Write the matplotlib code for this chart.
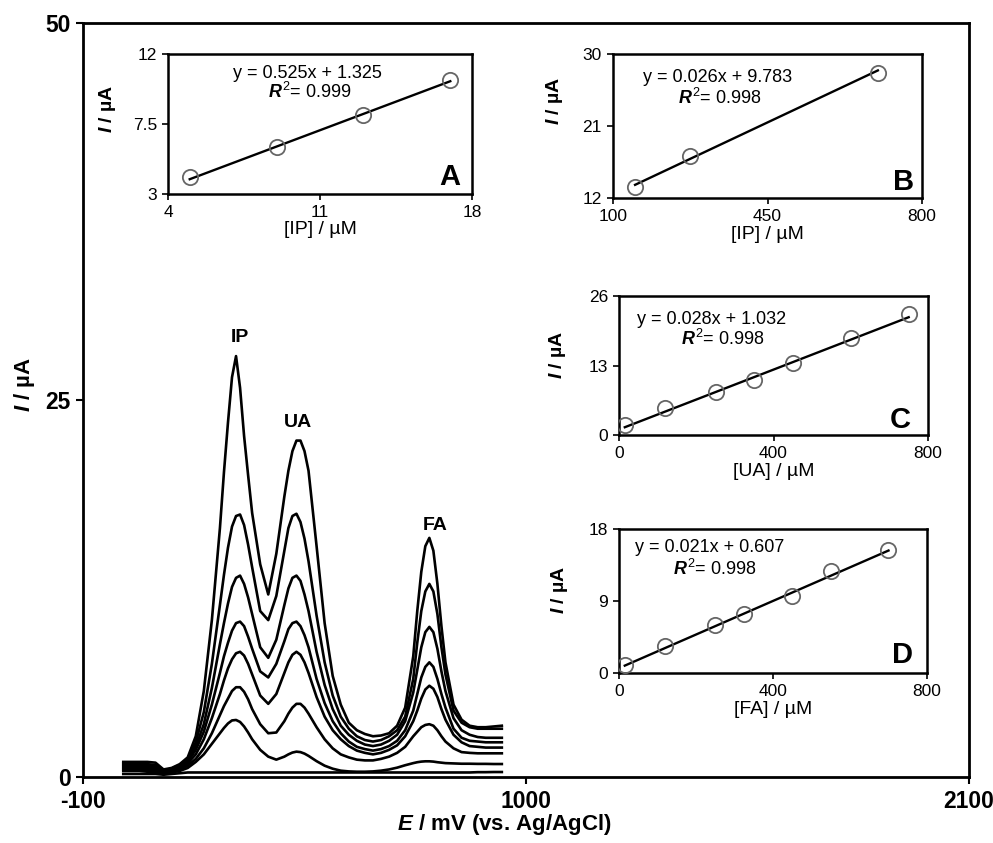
"""
plot.py - square-wave voltammograms of IP / UA / FA with four calibration insets.
"""

import matplotlib
matplotlib.use("Agg")
import matplotlib.pyplot as plt

plt.rcParams['font.family'] = ['Liberation Sans', 'DejaVu Sans']
plt.rcParams['mathtext.fontset'] = 'custom'
plt.rcParams['mathtext.rm'] = 'Liberation Sans'
plt.rcParams['mathtext.it'] = 'Liberation Sans:italic:bold'
plt.rcParams['mathtext.bf'] = 'Liberation Sans:bold'
plt.rcParams['axes.unicode_minus'] = False

# ---------- Voltammograms (potential in mV, current in uA) ----------
E_MV = [0, 20, 40, 60, 80, 100, 120, 140, 160, 180, 200, 220, 240,
        250, 260, 270, 280, 290, 300, 310, 320,
        340, 360, 380, 400,
        410, 420, 430, 440, 450, 460,
        480, 500, 520, 540, 560, 580, 600, 620, 640, 660, 680, 700, 720,
        730, 740, 750, 760, 770, 780, 790, 800,
        820, 840, 860, 880, 900, 920, 940]

I_1 = [1.0, 1.0, 1.0, 1.0, 0.95, 0.5, 0.6, 0.85, 1.3, 2.7, 5.7, 10.4, 16.5,
       20.2, 23.5, 26.5, 27.9, 25.8, 22.6, 20.0, 17.5,
       14.1, 12.1, 14.8, 18.6,
       20.3, 21.6, 22.3, 22.3, 21.6, 20.3,
       15.3, 10.2, 6.7, 4.8, 3.6, 3.1, 2.85, 2.7, 2.75, 2.9, 3.4, 4.6, 8.0,
       11.0, 13.6, 15.3, 15.85, 15.0, 12.8, 10.0, 7.6,
       4.8, 3.8, 3.4, 3.3, 3.3, 3.35, 3.4]
I_2 = [0.9, 0.9, 0.85, 0.85, 0.8, 0.45, 0.55, 0.8, 1.2, 2.3, 4.3, 7.5, 11.4,
       13.4, 15.2, 16.6, 17.3, 17.4, 16.7, 15.4, 13.9,
       11.0, 10.4, 12.0, 15.0,
       16.5, 17.3, 17.45, 16.9, 15.8, 14.3,
       10.7, 7.6, 5.4, 4.0, 3.2, 2.7, 2.45, 2.35, 2.45, 2.7, 3.1, 4.0, 6.5,
       8.9, 11.0, 12.3, 12.8, 12.3, 10.8, 8.6, 6.8,
       4.4, 3.6, 3.3, 3.2, 3.2, 3.2, 3.2]
I_3 = [0.8, 0.8, 0.8, 0.75, 0.7, 0.4, 0.5, 0.75, 1.1, 2.0, 3.5, 5.9, 8.8,
       10.2, 11.5, 12.6, 13.2, 13.35, 12.8, 11.9, 10.8,
       8.6, 7.9, 9.1, 11.4,
       12.5, 13.2, 13.35, 13.0, 12.1, 11.0,
       8.3, 6.1, 4.5, 3.4, 2.8, 2.4, 2.15, 2.05, 2.15, 2.4, 2.8, 3.7, 5.6,
       7.1, 8.6, 9.6, 9.95, 9.6, 8.5, 7.0, 5.7,
       3.9, 3.1, 2.8, 2.65, 2.6, 2.6, 2.6]
I_4 = [0.7, 0.7, 0.7, 0.65, 0.6, 0.35, 0.45, 0.7, 1.0, 1.8, 3.0, 4.8, 6.9,
       8.0, 8.9, 9.7, 10.2, 10.3, 10.0, 9.3, 8.5,
       7.0, 6.6, 7.5, 9.0,
       9.8, 10.2, 10.3, 10.0, 9.4, 8.6,
       6.5, 4.9, 3.7, 2.9, 2.35, 2.0, 1.85, 1.75, 1.85, 2.05, 2.4, 3.1, 4.4,
       5.5, 6.6, 7.3, 7.6, 7.3, 6.5, 5.5, 4.6,
       3.2, 2.6, 2.4, 2.35, 2.3, 2.3, 2.3]
I_5 = [0.6, 0.6, 0.6, 0.55, 0.5, 0.3, 0.4, 0.6, 0.9, 1.5, 2.5, 3.9, 5.5,
       6.4, 7.2, 7.8, 8.2, 8.3, 8.05, 7.5, 6.8,
       5.4, 4.85, 5.5, 6.9,
       7.6, 8.1, 8.3, 8.1, 7.6, 6.9,
       5.3, 4.0, 3.1, 2.5, 2.05, 1.75, 1.6, 1.5, 1.6, 1.8, 2.1, 2.7, 3.7,
       4.4, 5.2, 5.8, 6.05, 5.85, 5.3, 4.5, 3.8,
       2.8, 2.3, 2.05, 2.0, 1.95, 1.95, 1.95]
I_6 = [0.5, 0.5, 0.5, 0.45, 0.4, 0.3, 0.35, 0.5, 0.75, 1.2, 1.9, 2.9, 4.1,
       4.7, 5.2, 5.7, 5.95, 5.95, 5.65, 5.15, 4.5,
       3.5, 2.9, 2.95, 3.7,
       4.2, 4.6, 4.85, 4.85, 4.6, 4.2,
       3.3, 2.5, 1.9, 1.5, 1.3, 1.15, 1.1, 1.1, 1.2, 1.35, 1.6, 2.0, 2.7,
       3.0, 3.3, 3.45, 3.5, 3.4, 3.1, 2.7, 2.35,
       1.9, 1.65, 1.6, 1.57, 1.57, 1.57, 1.57]
I_7 = [0.4, 0.4, 0.4, 0.35, 0.3, 0.25, 0.3, 0.4, 0.6, 1.0, 1.5, 2.2, 2.9,
       3.25, 3.55, 3.75, 3.78, 3.65, 3.35, 2.95, 2.5,
       1.8, 1.35, 1.15, 1.35,
       1.5, 1.62, 1.68, 1.65, 1.55, 1.4,
       1.05, 0.75, 0.55, 0.42, 0.37, 0.35, 0.35, 0.37, 0.42, 0.5, 0.62, 0.78, 0.92,
       0.98, 1.02, 1.04, 1.04, 1.02, 0.98, 0.95, 0.92,
       0.9, 0.88, 0.88, 0.87, 0.87, 0.86, 0.86]
I_BLANK = [0.2, 0.2, 0.2, 0.2, 0.2, 0.15, 0.2, 0.25, 0.3, 0.3, 0.3, 0.3, 0.3,
           0.3, 0.3, 0.3, 0.3, 0.3, 0.3, 0.3, 0.3,
           0.3, 0.3, 0.3, 0.3,
           0.3, 0.3, 0.3, 0.3, 0.3, 0.3,
           0.3, 0.3, 0.3, 0.3, 0.3, 0.3, 0.3, 0.3, 0.3, 0.3, 0.3, 0.3, 0.3,
           0.3, 0.3, 0.3, 0.3, 0.3, 0.3, 0.3, 0.3,
           0.3, 0.3, 0.3, 0.32, 0.32, 0.33, 0.33]
CURVES = [I_1, I_2, I_3, I_4, I_5, I_6, I_7, I_BLANK]

PEAK_LABELS = ['IP', 'UA', 'FA']
PEAK_LABEL_E = [290, 434, 774]
PEAK_LABEL_I = [29.1, 23.5, 16.7]

# ---------- Calibration insets ----------
A_X = [5, 9, 13, 17]
A_Y = [4.1, 6.05, 8.1, 10.35]
B_X = [150, 275, 700]
B_Y = [13.4, 17.3, 27.7]
C_X = [15, 120, 250, 350, 450, 600, 750]
C_Y = [1.9, 5.1, 8.1, 10.3, 13.5, 18.2, 22.6]
D_X = [15, 120, 250, 325, 450, 550, 700]
D_Y = [0.95, 3.35, 6.0, 7.4, 9.6, 12.7, 15.4]

A_FIT = (0.525, 1.325, '0.999')
B_FIT = (0.026, 9.783, '0.998')
C_FIT = (0.028, 1.032, '0.998')
D_FIT = (0.021, 0.607, '0.998')

W, H = 993, 843
fig = plt.figure(figsize=(W / 100, H / 100), dpi=100)


def px_rect(x0, y_top, x1, y_bot):
    return [x0 / W, 1 - y_bot / H, (x1 - x0) / W, (y_bot - y_top) / H]


# ---------- Main panel ----------
ax = fig.add_axes(px_rect(83, 22.7, 969, 777))
for curve in CURVES:
    ax.plot(E_MV, curve, color='black', lw=1.9, solid_joinstyle='round')
for lab, e, i in zip(PEAK_LABELS, PEAK_LABEL_E, PEAK_LABEL_I):
    ax.text(e, i, lab, ha='center', va='center', fontsize=14, fontweight='bold')

ax.set_xlim(-100, 2100)
ax.set_ylim(0, 50)
ax.set_xticks([-100, 1000, 2100])
ax.set_yticks([0, 25, 50])
ax.tick_params(direction='out', length=5, width=1.5, labelsize=16.5, pad=4)
for t in ax.get_xticklabels() + ax.get_yticklabels():
    t.set_fontweight('bold')
for s in ax.spines.values():
    s.set_linewidth(2)
ax.set_xlabel(r'$\mathit{E}$ / mV (vs. Ag/AgCl)', fontsize=16, fontweight='bold')
ax.xaxis.set_label_coords(0.476, -0.047)
ax.set_ylabel(r'$\mathit{I}$ / µA', fontsize=16, fontweight='bold')
ax.yaxis.set_label_coords(-0.052, 0.52)


def draw_inset(rect, xs, ys, fit, xlim, ylim, xticks, yticks, yticklabels,
               xlabel, letter, eq_xy, r2_xy, letter_xy, ylabel_xy):
    ins = fig.add_axes(rect)
    ins.set_facecolor('white')
    slope, intercept, r2 = fit
    fx = [xs[0], xs[-1]]
    fy = [slope * v + intercept for v in fx]
    ins.plot(fx, fy, color='black', lw=1.7, zorder=2)
    ins.plot(xs, ys, 'o', ms=11, mfc='none', mec='#666666', mew=1.3, zorder=3)
    ins.set_xlim(*xlim)
    ins.set_ylim(*ylim)
    ins.set_xticks(xticks)
    ins.set_yticks(yticks)
    ins.set_yticklabels(yticklabels)
    ins.tick_params(direction='out', length=4, width=1.2, labelsize=12.5, pad=4)
    for s in ins.spines.values():
        s.set_linewidth(1.8)
    ins.set_xlabel(xlabel, fontsize=14, labelpad=1)
    ins.set_ylabel(r'$\mathit{I}$ / µA', fontsize=14, fontweight='bold')
    ins.yaxis.set_label_coords(*ylabel_xy)
    eq = f'y = {slope:.3f}x + {intercept:.3f}'
    ins.text(eq_xy[0], eq_xy[1], eq, transform=ins.transAxes,
             ha='center', va='center', fontsize=13)
    ins.text(r2_xy[0], r2_xy[1], r'$\mathit{R}^{2}$= ' + r2, transform=ins.transAxes,
             ha='center', va='center', fontsize=13)
    ins.text(letter_xy[0], letter_xy[1], letter, transform=ins.transAxes,
             ha='center', va='center', fontsize=21, fontweight='bold')
    return ins


draw_inset(px_rect(168, 54, 472, 194), A_X, A_Y, A_FIT, (4, 18), (3, 12),
           [4, 11, 18], [3, 7.5, 12], ['3', '7.5', '12'], '[IP] / µM', 'A',
           (0.46, 0.864), (0.467, 0.73), (0.928, 0.12), (-0.165, 0.61))
draw_inset(px_rect(613, 54.3, 922, 198.3), B_X, B_Y, B_FIT, (100, 800), (12, 30),
           [100, 450, 800], [12, 21, 30], ['12', '21', '30'], '[IP] / µM', 'B',
           (0.34, 0.84), (0.346, 0.70), (0.94, 0.11), (-0.155, 0.68))
draw_inset(px_rect(619, 296, 928, 435), C_X, C_Y, C_FIT, (0, 800), (0, 26),
           [0, 400, 800], [0, 13, 26], ['0', '13', '26'], '[UA] / µM', 'C',
           (0.30, 0.83), (0.337, 0.69), (0.91, 0.11), (-0.165, 0.575))
draw_inset(px_rect(619, 529, 927, 673), D_X, D_Y, D_FIT, (0, 800), (0, 18),
           [0, 400, 800], [0, 9, 18], ['0', '9', '18'], '[FA] / µM', 'D',
           (0.295, 0.87), (0.31, 0.72), (0.92, 0.125), (-0.16, 0.58))

fig.savefig('out.png', dpi=100)
